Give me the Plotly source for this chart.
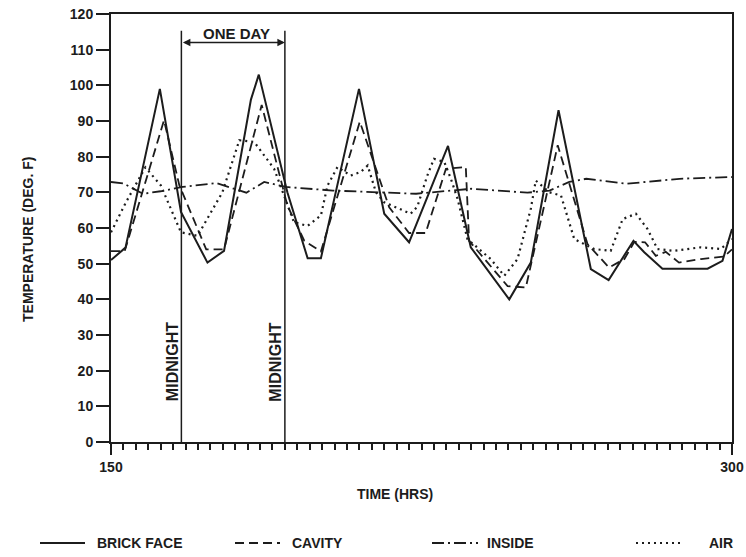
import plotly.graph_objects as go

# ---- data ----
brick_t = [150, 153.5, 161.8, 166.9, 173.3, 177.3, 183.8, 185.7, 192.6, 197.5, 200.7,
           209.9, 216.0, 222.0, 231.4, 236.9, 246.2, 251.4, 258.1, 265.9, 270.2,
           276.2, 278.8, 283.2, 294.1, 297.7, 300]
brick_v = [51, 54.5, 99, 64.5, 50.3, 53.6, 96, 103, 70, 51.5, 51.5,
           99, 64, 56, 83, 54.6, 40, 50.3, 93, 48.5, 45.4,
           56.4, 53.2, 48.6, 48.6, 50.8, 59.7]

cavity_t = [150, 153.3, 162.8, 166.5, 173.0, 177.3, 186.4, 192.6, 196.7, 200.7,
            210.1, 217.2, 222.0, 226.0, 230.9, 235.7, 236.5, 245.8, 250.2, 257.9,
            265.1, 270.3, 274.0, 276.4, 279.0, 281.6, 284.0, 287.2, 292.5, 298.1, 300]
cavity_v = [53.5, 53.5, 90.2, 72, 54, 54, 94.5, 66.3, 56.4, 53.4,
            89.8, 65.8, 58.6, 58.6, 76.6, 77.1, 56.4, 43.7, 43.3, 83.2,
            55.5, 48.9, 51.3, 56.1, 56.0, 52.2, 53.3, 50.3, 51.3, 52.0, 54.0]

inside_t = [150, 153.0, 157.7, 162.0, 167.3, 175.4, 182.7, 187.0, 192.3, 203.6,
            223.7, 237.0, 250.6, 255.9, 260.7, 264.8, 274.5, 287.3, 300]
inside_v = [72.9, 72.5, 69.6, 70.3, 71.5, 72.6, 69.9, 72.9, 71.5, 70.5,
            69.6, 71.0, 69.9, 70.5, 72.9, 73.8, 72.4, 73.8, 74.3]

air_t = [150, 153.6, 158.3, 162.0, 166.9, 170.9, 176.9, 181.0, 184.6, 189.4,
         194.2, 197.5, 200.7, 202.3, 204.7, 207.9, 210.3, 212.0, 214.0, 216.0,
         222.4, 224.0, 226.4, 228.0, 230.5, 232.1, 233.7, 236.1, 241.7, 245.0,
         248.2, 251.4, 252.6, 255.9, 258.7, 261.9, 266.7, 270.7, 273.6, 276.8,
         279.6, 282.0, 286.0, 292.5, 297.3, 300]
air_v = [58.8, 67.2, 77.0, 72.0, 58.8, 57.8, 70.0, 84.6, 84.1, 76.6,
         61.6, 60.6, 63.5, 71.9, 77.1, 74.7, 75.7, 77.5, 70.0, 67.2,
         64.0, 66.0, 74.7, 79.4, 78.5, 73.8, 68.2, 56.9, 51.3, 46.6,
         51.3, 65.4, 73.3, 70.0, 69.1, 56.9, 54.1, 53.6, 62.5, 64.0,
         59.7, 54.1, 53.6, 54.6, 54.1, 56.9]

series_names = ["BRICK FACE", "CAVITY", "INSIDE", "AIR"]
midnight_hours = [167, 192]
x_ticks = [150, 300]
y_ticks = list(range(0, 121, 10))

INK = "#1c1c1c"
FONT = "Liberation Sans"
W, H = 746, 557
L, R, T, B = 111, 14, 14, 115
pw, ph = W - L - R, H - T - B


def px(xp):
    return (xp - L) / pw


def py(yp):
    return (H - B - yp) / ph


styles = [
    dict(color=INK, width=2),
    dict(color=INK, width=1.8, dash="9px,5px"),
    dict(color=INK, width=1.8, dash="12px,4px,2px,4px"),
    dict(color=INK, width=2.2, dash="2px,4px"),
]

fig = go.Figure()
for name, t, v, st in zip(series_names, [brick_t, cavity_t, inside_t, air_t],
                          [brick_v, cavity_v, inside_v, air_v], styles):
    fig.add_trace(go.Scatter(x=t, y=v, mode="lines", name=name, line=st))

# midnight lines
for h in midnight_hours:
    fig.add_shape(type="line", xref="x", yref="y", x0=h, x1=h, y0=0, y1=115.3,
                  line=dict(color=INK, width=1.5))
    fig.add_annotation(x=h, y=22.5, xref="x", yref="y", text="<b>MIDNIGHT</b>",
                       showarrow=False, textangle=-90, xshift=-9,
                       font=dict(family=FONT, size=16, color=INK))

# one-day arrow
fig.add_annotation(x=midnight_hours[1], y=112, ax=midnight_hours[0], ay=112,
                   xref="x", yref="y", axref="x", ayref="y", text="",
                   showarrow=True, arrowhead=2, arrowside="end+start",
                   arrowsize=1, arrowwidth=1.5, arrowcolor=INK)
fig.add_annotation(x=(midnight_hours[0] + midnight_hours[1]) / 2, y=114.6,
                   xref="x", yref="y", text="<b>ONE DAY</b>", showarrow=False,
                   xshift=3, font=dict(family=FONT, size=15, color=INK))

# axis titles
fig.add_annotation(x=px(395), y=py(494), xref="paper", yref="paper",
                   xanchor="center", yanchor="middle",
                   text="<b>TIME (HRS)</b>", showarrow=False,
                   font=dict(family=FONT, size=14, color=INK))
fig.add_annotation(x=px(28), y=py(240), xref="paper", yref="paper",
                   xanchor="center", yanchor="middle",
                   text="<b>TEMPERATURE (DEG. F)</b>", showarrow=False, textangle=-90,
                   font=dict(family=FONT, size=14, color=INK))

# manual legend row
leg_line = [(40, 85), (235, 280), (432, 478), (636, 682)]
leg_text = [95, 290, 485, 707]
leg_y = 543
for name, (a, b), tx, st in zip(series_names, leg_line, leg_text, styles):
    fig.add_shape(type="line", xref="paper", yref="paper", x0=px(a), x1=px(b),
                  y0=py(leg_y), y1=py(leg_y), line=st)
    fig.add_annotation(x=px(tx), y=py(leg_y), xref="paper", yref="paper",
                       text=f"<b>{name}</b>", showarrow=False,
                       xanchor="left", yanchor="middle",
                       font=dict(family=FONT, size=14, color=INK))

fig.update_layout(
    width=W, height=H,
    margin=dict(l=L, r=R, t=T, b=B, autoexpand=False),
    plot_bgcolor="white", paper_bgcolor="white",
    font=dict(family=FONT, size=12, color=INK),
    showlegend=False,
)

fig.update_xaxes(range=[150, 300], tickvals=x_ticks, ticktext=[f"<b>{v}</b>" for v in x_ticks],
                 ticks="outside", ticklen=11, tickwidth=2, tickcolor=INK,
                 minor=dict(dtick=3, tick0=150, ticks="outside", ticklen=6, tickwidth=1.5,
                            tickcolor=INK, showgrid=False),
                 showline=True, linecolor=INK, linewidth=2, mirror=True,
                 showgrid=False, zeroline=False,
                 tickfont=dict(family=FONT, size=14, color=INK))
fig.update_yaxes(range=[0, 120], tickvals=y_ticks, ticktext=[f"<b>{v}</b>" for v in y_ticks],
                 ticks="outside", ticklen=13, tickwidth=1.5, tickcolor=INK,
                 showline=True, linecolor=INK, linewidth=2, mirror=True,
                 showgrid=False, zeroline=False,
                 tickfont=dict(family=FONT, size=14, color=INK))

fig.write_html("out.html", config={"displayModeBar": False},
               post_script="document.body.style.margin='0';document.body.style.overflow='hidden';")
